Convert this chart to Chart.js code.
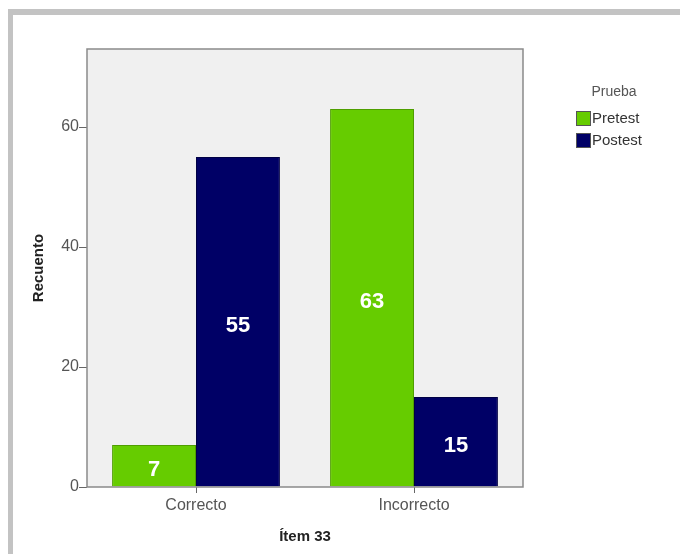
<!DOCTYPE html>
<html>
<head>
<meta charset="utf-8">
<script src="https://cdn.jsdelivr.net/npm/chart.js@4/dist/chart.umd.min.js"></script>
<style>
  html, body { margin: 0; padding: 0; background: #fff; }
  #wrap { position: relative; width: 680px; height: 554px; }
</style>
</head>
<body>
<div id="wrap"><canvas id="chart" width="680" height="554"></canvas></div>
<script>
/* Ítem 33 — Pretest vs Postest counts */

const CATEGORIES = ["Correcto", "Incorrecto"];
const PRETEST = [7, 63];
const POSTEST = [55, 15];
const Y_TICKS = [0, 20, 40, 60];
const Y_MAX = 73;

const GREEN = "#66cc00";
const NAVY = "#000066";
const FONT = "'Liberation Sans', Arial, sans-serif";

// gray frame, plot background and border
const backdrop = {
  id: "backdrop",
  beforeDraw(chart) {
    const { ctx, chartArea: a } = chart;
    ctx.save();
    ctx.fillStyle = "#c3c3c3";
    ctx.fillRect(8, 9, 672, 6);
    ctx.fillRect(8, 9, 5, 545);
    ctx.fillStyle = "#f0f0f0";
    ctx.fillRect(a.left, a.top, a.right - a.left, a.bottom - a.top);
    ctx.restore();
  },
  afterDraw(chart) {
    const { ctx, chartArea: a } = chart;
    ctx.save();
    ctx.strokeStyle = "#8a8a8a";
    ctx.lineWidth = 1.5;
    ctx.strokeRect(a.left, a.top, a.right - a.left, a.bottom - a.top);
    ctx.restore();
  },
};

// white values in the middle of each bar
const barValues = {
  id: "barValues",
  afterDatasetsDraw(chart) {
    const { ctx } = chart;
    ctx.save();
    ctx.fillStyle = "#ffffff";
    ctx.font = "bold 22px " + FONT;
    ctx.textAlign = "center";
    ctx.textBaseline = "middle";
    chart.data.datasets.forEach((ds, i) => {
      chart.getDatasetMeta(i).data.forEach((bar, j) => {
        ctx.fillText(String(ds.data[j]), bar.x, (bar.y + bar.base) / 2 + 4);
      });
    });
    ctx.restore();
  },
};

// SPSS-style legend at the right of the plot
const sideLegend = {
  id: "sideLegend",
  afterDraw(chart) {
    const { ctx, chartArea: a } = chart;
    const x0 = a.right + 53;
    ctx.save();
    ctx.font = "14px " + FONT;
    ctx.fillStyle = "#555";
    ctx.textAlign = "center";
    ctx.textBaseline = "middle";
    ctx.fillText("Prueba", x0 + 38, 92);
    ctx.textAlign = "left";
    chart.data.datasets.forEach((ds, i) => {
      const y = 111 + i * 22;
      ctx.fillStyle = ds.backgroundColor;
      ctx.fillRect(x0, y, 15, 15);
      ctx.strokeStyle = "#555";
      ctx.lineWidth = 1;
      ctx.strokeRect(x0 + 0.5, y + 0.5, 14, 14);
      ctx.fillStyle = "#333";
      ctx.font = "15px " + FONT;
      ctx.fillText(ds.label, x0 + 16, y + 8);
    });
    ctx.restore();
  },
};

new Chart(document.getElementById("chart"), {
  type: "bar",
  data: {
    labels: CATEGORIES,
    datasets: [
      { label: "Pretest", data: PRETEST, backgroundColor: GREEN, borderColor: "#4f9e00", borderWidth: 1 },
      { label: "Postest", data: POSTEST, backgroundColor: NAVY, borderColor: "#000044", borderWidth: 1 },
    ],
  },
  options: {
    responsive: false,
    animation: false,
    layout: { padding: { left: 0, top: 49, right: 157, bottom: 0 } },
    datasets: { bar: { categoryPercentage: 0.77, barPercentage: 1 } },
    plugins: { legend: { display: false }, tooltip: { enabled: false } },
    scales: {
      x: {
        afterFit: (s) => { s.height = 67; },
        border: { display: false },
        grid: { drawOnChartArea: false, offset: false, tickLength: 6, color: "#666" },
        ticks: { color: "#555", font: { family: FONT, size: 16 }, padding: 3 },
        title: { display: true, text: "Ítem 33", color: "#222", font: { family: FONT, size: 15, weight: "bold" }, padding: { top: 0, bottom: 8 } },
      },
      y: {
        min: 0,
        max: Y_MAX,
        afterFit: (s) => { s.width = 87; },
        afterBuildTicks: (s) => { s.ticks = Y_TICKS.map((v) => ({ value: v })); },
        border: { display: false },
        grid: { drawOnChartArea: false, tickLength: 8, color: "#666" },
        ticks: { color: "#555", font: { family: FONT, size: 16 }, padding: 0 },
        title: { display: true, text: "Recuento", color: "#222", font: { family: FONT, size: 15, weight: "bold" }, padding: { top: 30, bottom: 0 } },
      },
    },
  },
  plugins: [backdrop, barValues, sideLegend],
});
</script>
</body>
</html>
